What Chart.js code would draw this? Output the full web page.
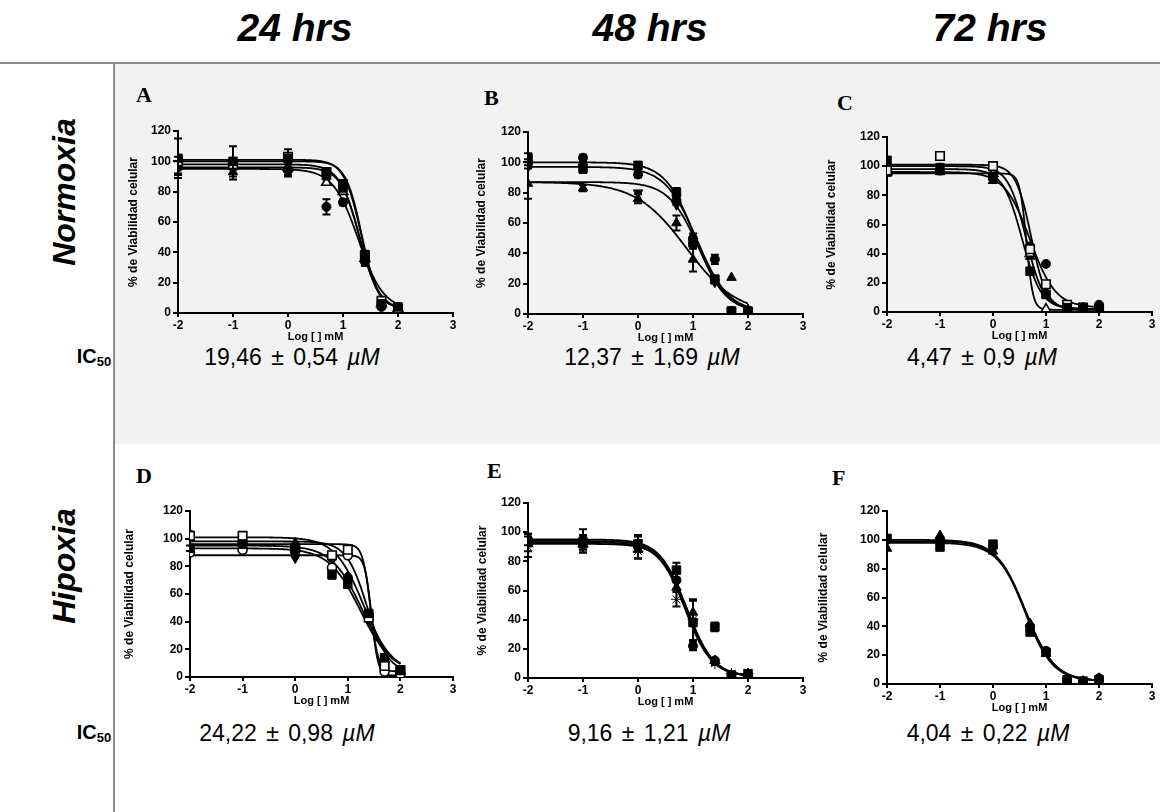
<!DOCTYPE html>
<html>
<head>
<meta charset="utf-8">
<script src="https://cdn.jsdelivr.net/npm/chart.js@4.4.1/dist/chart.umd.min.js"></script>
<style>
  body { margin: 0; width: 1160px; height: 812px; position: relative; overflow: hidden; background: #fff;
         font-family: Arial, "Liberation Sans", sans-serif; color: #000; }
  .band { position: absolute; left: 115px; top: 64px; width: 1045px; height: 380px; background: #f2f2f2; }
  .hline { position: absolute; left: 0; top: 62px; width: 1160px; height: 2px; background: #8c8c8c; }
  .vline { position: absolute; left: 113px; top: 62px; width: 2px; height: 750px; background: #8c8c8c; }
  .head { position: absolute; top: 6px; font: italic bold 39px Arial, "Liberation Sans", sans-serif; transform: translateX(-50%); white-space: nowrap; }
  .cond { position: absolute; font: italic bold 32px Arial, "Liberation Sans", sans-serif; white-space: nowrap;
          transform: translate(-50%, -50%) rotate(-90deg); }
  .ic { position: absolute; font: bold 20px Arial, "Liberation Sans", sans-serif; transform: translate(-50%, -50%); }
  .ic sub { font-size: 13px; vertical-align: -3px; }
  .val { position: absolute; font: 23px Arial, "Liberation Sans", sans-serif; word-spacing: 3px;
         transform: translate(-50%, -50%); white-space: nowrap; }
  .letter { position: absolute; font: bold 22px "Liberation Serif", "Times New Roman", serif; }
  canvas { position: absolute; }
</style>
</head>
<body>
<div class="band"></div>
<div class="hline"></div>
<div class="vline"></div>
<div id="texts"></div>

<script>
// log10 of the concentrations tested
const logDose = [-2, -1, 0, 0.699, 1, 1.398, 1.699, 2];

const hours = ['24 hrs', '48 hrs', '72 hrs'];
const conditions = ['Normoxia', 'Hipoxia'];
const ic50Values = ['19,46 ± 0,54', '12,37 ± 1,69', '4,47 ± 0,9', '24,22 ± 0,98', '9,16 ± 1,21', '4,04 ± 0,22'];

// fits are [top, bottom, logIC50, hill slope]
// A - normoxia 24 h
const markersA = ['rect', 'rectOpen', 'triangle', 'triangleOpen', 'circle'];
const viabA = [
  [102, 100, 102, 92, 84, 37, 6, 4],
  [100, 98, 103, 93, 85, 38, 8, 3],
  [97, 93, 95, 90, 82, 35, 7, 3],
  [100, 97, 96, 86, 80, 36, 6, 3],
  [96, 96, 94, 70, 73, 34, 4, 3]
];
const sdA = [
  [13, 10, 6, 3, 3, 4, 2, 1],
  [0, 0, 0, 0, 0, 0, 0, 0],
  [6, 5, 4, 2, 2, 3, 1, 1],
  [0, 0, 0, 0, 0, 0, 0, 0],
  [4, 4, 4, 5, 2, 3, 1, 1]
];
const fitA = [[101, 3, 1.33, 2.8], [100, 3, 1.34, 3.0], [96, 2, 1.31, 2.5], [98, 2, 1.30, 2.4], [95, 2, 1.28, 1.9]];

// B - normoxia 48 h
const markersB = ['circle', 'rect', 'triangle', 'triangleDown'];
const viabB = [
  [100, 103, 92, 75, 50, 36, 2, 2],
  [103, 96, 98, 80, 47, 23, 2, 2],
  [86, 83, 76, 60, 36, 22, 24, 3],
  [97, 97, 80, 72, 45, 21, 2, 2]
];
const sdB = [
  [2, 2, 2, 3, 3, 3, 1, 1],
  [3, 3, 2, 3, 4, 2, 1, 1],
  [10, 2, 3, 5, 8, 2, 0, 1],
  [0, 0, 0, 0, 0, 0, 0, 0]
];
const fitB = [[100, 1, 1.04, 1.6], [97, 1, 1.07, 1.5], [87, 0, 0.88, 0.95], [87, 1, 1.1, 1.6]];

// C - normoxia 72 h
const markersC = ['rect', 'rectOpen', 'circle', 'triangleOpen', 'triangle'];
const viabC = [
  [104, 99, 93, 28, 12, 3, 3, 2],
  [97, 107, 100, 43, 19, 5, 3, 2],
  [96, 97, 92, 45, 33, 3, 2, 5],
  [96, 98, 95, 40, 2, 2, 2, 2],
  [95, 96, 90, 38, 14, 4, 3, 3]
];
const sdC = [
  [0, 0, 0, 0, 0, 0, 0, 0],
  [0, 0, 0, 0, 0, 0, 0, 0],
  [0, 0, 0, 0, 0, 0, 0, 0],
  [0, 0, 0, 0, 0, 0, 0, 0],
  [0, 0, 0, 0, 0, 0, 0, 0]
];
const fitC = [[98, 2, 0.55, 2.4], [101, 2, 0.72, 3.0], [96, 3, 0.70, 1.8], [95, 1.5, 0.63, 7], [100, 2, 0.62, 2.6]];

// D - hypoxia 24 h
const markersD = ['rect', 'rectOpen', 'circleOpen', 'triangle', 'triangleDown', 'circle'];
const viabD = [
  [93, 96, 92, 74, 67, 46, 14, 5],
  [102, 102, 93, 88, 92, 43, 8, 5],
  [90, 92, 92, 79, 88, 44, 4, 2],
  [101, 100, 97, 88, 73, 42, 8, 4],
  [92, 95, 86, 76, 70, 40, 6, 3],
  [103, 97, 94, 86, 72, 45, 10, 3]
];
const sdD = [
  [2, 2, 2, 3, 2, 2, 2, 1],
  [0, 0, 0, 0, 0, 0, 0, 0],
  [0, 0, 0, 0, 0, 0, 0, 0],
  [0, 0, 0, 0, 0, 0, 0, 0],
  [0, 0, 0, 0, 0, 0, 0, 0],
  [0, 0, 0, 0, 0, 0, 0, 0]
];
const fitD = [[93, 3, 1.24, 1.46], [96, 4, 1.43, 6], [88, 1, 1.45, 7], [101, 3, 1.30, 1.6], [95, 3, 1.27, 1.5], [98, 3, 1.37, 2.2]];

// E - hypoxia 48 h
const markersE = ['rect', 'circle', 'star', 'triangle'];
const viabE = [
  [93, 92, 92, 74, 38, 35, 2, 3],
  [95, 95, 90, 67, 22, 12, 2, 2],
  [90, 90, 87, 54, 40, 10, 3, 3],
  [93, 92, 88, 62, 45, 12, 2, 3]
];
const sdE = [
  [6, 6, 5, 5, 15, 3, 1, 1],
  [4, 7, 8, 6, 3, 1, 1, 1],
  [7, 4, 5, 5, 14, 1, 1, 1],
  [0, 0, 0, 0, 0, 0, 0, 0]
];
const fitE = [[95, 1, 0.88, 1.8], [93, 1, 0.86, 1.8], [92, 1, 0.90, 1.8], [94, 1, 0.87, 1.8]];

// F - hypoxia 72 h
const markersF = ['rect', 'triangle', 'circle'];
const viabF = [
  [101, 95, 97, 36, 22, 3, 2, 3],
  [94, 103, 92, 42, 21, 2, 2, 4],
  [100, 100, 95, 40, 23, 3, 2, 4]
];
const sdF = [
  [0, 0, 0, 0, 0, 0, 0, 0],
  [0, 0, 0, 0, 0, 0, 0, 0],
  [0, 0, 0, 0, 0, 0, 0, 0]
];
const fitF = [[100, 2, 0.61, 1.6], [98, 2, 0.62, 1.6], [99, 2, 0.60, 1.65]];

// plot boxes on the page (axis extents), y-title distance, letter position
const panels = [
  { id: 'A', box: [178, 131, 453, 313], yGap: 45, letter: [136, 82], bg: '#f2f2f2', markers: markersA, viab: viabA, sd: sdA, fit: fitA },
  { id: 'B', box: [528, 132, 803, 314], yGap: 47, letter: [484, 85], bg: '#f2f2f2', markers: markersB, viab: viabB, sd: sdB, fit: fitB },
  { id: 'C', box: [887, 137, 1152, 312], yGap: 56, letter: [837, 90], bg: '#f2f2f2', markers: markersC, viab: viabC, sd: sdC, fit: fitC },
  { id: 'D', box: [190, 511, 453, 677], yGap: 61, letter: [136, 463], bg: '#ffffff', markers: markersD, viab: viabD, sd: sdD, fit: fitD },
  { id: 'E', box: [528, 503, 803, 678], yGap: 46, letter: [487, 458], bg: '#ffffff', markers: markersE, viab: viabE, sd: sdE, fit: fitE },
  { id: 'F', box: [887, 511, 1152, 684], yGap: 64, letter: [832, 465], bg: '#ffffff', markers: markersF, viab: viabF, sd: sdF, fit: fitF }
];

// page text
const texts = document.getElementById('texts');
function addText(cls, html, left, top) {
  const d = document.createElement('div');
  d.className = cls;
  d.innerHTML = html;
  d.style.left = left + 'px';
  d.style.top = top + 'px';
  texts.appendChild(d);
}
[295, 650, 990].forEach((cx, i) => addText('head', hours[i], cx, 6));
addText('cond', conditions[0], 64, 192);
addText('cond', conditions[1], 64, 566);
addText('ic', 'IC<sub>50</sub>', 94, 357);
addText('ic', 'IC<sub>50</sub>', 94, 733);
const valX = [292, 652, 982, 287, 649, 988];
ic50Values.forEach((v, i) => addText('val', v + ' <i>µM</i>', valX[i], i < 3 ? 357 : 733));
panels.forEach(p => addText('letter', p.id, p.letter[0], p.letter[1]));

Chart.defaults.font.family = 'Arial, "Liberation Sans", sans-serif';
Chart.defaults.color = '#000';

// 4-parameter logistic curve, sampled from -2 to 2
function fitCurve(f) {
  const [top, bottom, logIC50, hill] = f;
  const pts = [];
  for (let i = 0; i <= 200; i++) {
    const x = -2 + i * 0.02;
    pts.push({ x: x, y: bottom + (top - bottom) / (1 + Math.pow(10, (x - logIC50) * hill)) });
  }
  return pts;
}

function markerStyle(m, bg) {
  const open = m.endsWith('Open');
  const base = m.replace('Open', '');
  return {
    pointStyle: base === 'triangleDown' ? 'triangle' : base,
    rotation: base === 'triangleDown' ? 180 : 0,
    pointRadius: base === 'rect' ? 6 : (base === 'circle' ? 4.5 : 5.5),
    pointBorderColor: '#000',
    pointBackgroundColor: open ? bg : '#000',
    pointBorderWidth: open ? 1.6 : 1
  };
}

const errorBars = {
  id: 'errorBars',
  afterDatasetsDraw(chart) {
    const { ctx, scales: { x, y } } = chart;
    ctx.save();
    ctx.strokeStyle = '#000';
    ctx.lineWidth = 2;
    chart.data.datasets.forEach(ds => {
      if (!ds.errors) return;
      ds.data.forEach((pt, j) => {
        const e = ds.errors[j];
        if (!e) return;
        const px = x.getPixelForValue(pt.x);
        const y1 = y.getPixelForValue(pt.y + e);
        const y2 = y.getPixelForValue(pt.y - e);
        ctx.beginPath();
        ctx.moveTo(px, y1); ctx.lineTo(px, y2);
        ctx.moveTo(px - 4, y1); ctx.lineTo(px + 4, y1);
        ctx.moveTo(px - 4, y2); ctx.lineTo(px + 4, y2);
        ctx.stroke();
      });
    });
    ctx.restore();
  }
};

const padTop = 12, padRight = 10, xAxisH = 31;

panels.forEach(p => {
  const [l, t, r, b] = p.box;
  const yAxisW = p.yGap + 7;
  const canvas = document.createElement('canvas');
  canvas.width = yAxisW + (r - l) + padRight;
  canvas.height = padTop + (b - t) + xAxisH;
  canvas.style.left = (l - yAxisW) + 'px';
  canvas.style.top = (t - padTop) + 'px';
  document.body.appendChild(canvas);

  const datasets = [];
  p.fit.forEach(f => datasets.push({
    data: fitCurve(f),
    showLine: true,
    borderColor: '#000',
    borderWidth: 1.8,
    pointRadius: 0,
    order: 2
  }));
  p.viab.forEach((vals, i) => datasets.push(Object.assign({
    data: vals.map((v, j) => ({ x: logDose[j], y: v })),
    errors: p.sd[i],
    showLine: false,
    order: 1
  }, markerStyle(p.markers[i], p.bg))));

  new Chart(canvas, {
    type: 'scatter',
    data: { datasets: datasets },
    options: {
      responsive: false,
      animation: false,
      layout: { padding: { left: 0, top: padTop, right: padRight, bottom: 0 } },
      plugins: { legend: { display: false }, tooltip: { enabled: false } },
      scales: {
        x: {
          type: 'linear', min: -2, max: 3,
          ticks: { stepSize: 1, padding: 1, font: { size: 12, weight: 'bold' } },
          grid: { drawOnChartArea: false, color: '#000', lineWidth: 2, tickLength: 4 },
          border: { color: '#000', width: 2 },
          title: { display: true, text: 'Log [ ] mM', font: { size: 11, weight: 'bold' }, padding: 0 },
          afterFit: s => { s.height = xAxisH; }
        },
        y: {
          min: 0, max: 120,
          ticks: { stepSize: 20, padding: 2, font: { size: 12, weight: 'bold' } },
          grid: { drawOnChartArea: false, color: '#000', lineWidth: 2, tickLength: 5 },
          border: { color: '#000', width: 2 },
          title: { display: true, text: '% de Viabilidad celular', font: { size: 12, weight: 'bold' }, padding: 0 },
          afterFit: s => { s.width = yAxisW; }
        }
      }
    },
    plugins: [errorBars]
  });
});
</script>
</body>
</html>
